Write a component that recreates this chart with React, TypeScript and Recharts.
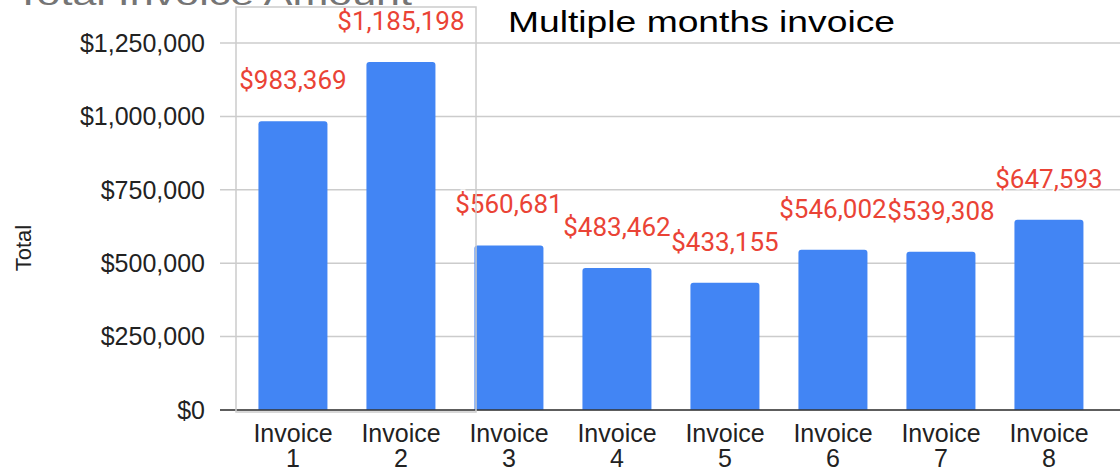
import { BarChart, Bar, XAxis, YAxis, CartesianGrid, LabelList } from "recharts";

const invoices = ["Invoice 1", "Invoice 2", "Invoice 3", "Invoice 4", "Invoice 5", "Invoice 6", "Invoice 7", "Invoice 8"];
const totals = [983369, 1185198, 560681, 483462, 433155, 546002, 539308, 647593];
const yTicks = [0, 250000, 500000, 750000, 1000000, 1250000];

const data = invoices.map((name, i) => ({ name, total: totals[i] }));

const money = (v: number) => "$" + Number(v).toLocaleString("en-US");

function InvoiceTick({ x, y, payload }: any) {
  const [word, num] = String(payload.value).split(" ");
  return (
    <text x={x} y={y} textAnchor="middle" fill="#222" fontSize={25} fontFamily="'Liberation Sans', Arial, sans-serif">
      <tspan x={x} dy={32}>{word}</tspan>
      <tspan x={x} dy={25}>{num}</tspan>
    </text>
  );
}

export default function App() {
  return (
    <div style={{ position: "absolute", left: 0, top: 0, width: 1120, height: 471, background: "#fff", overflow: "hidden" }}>
      <BarChart width={1120} height={471} data={data} margin={{ top: 43, right: 0, bottom: 0, left: 0 }} barCategoryGap="18%">
        <CartesianGrid vertical={false} stroke="#cccccc" strokeWidth={1.5} />
        <XAxis
          dataKey="name"
          height={61}
          padding={{ left: 19, right: 17 }}
          tickLine={false}
          tickSize={0}
          tickMargin={0}
          axisLine={{ stroke: "#333", strokeWidth: 1.5 }}
          tick={<InvoiceTick />}
          interval={0}
        />
        <YAxis
          width={220}
          domain={[0, 1250000]}
          ticks={yTicks}
          tickFormatter={money}
          axisLine={false}
          tickLine={false}
          tickSize={0}
          tickMargin={15}
          tick={{ fill: "#222", fontSize: 25, fontFamily: "'Liberation Sans', Arial, sans-serif" }}
        />
        <Bar dataKey="total" fill="#4285f4" radius={[3, 3, 0, 0]} isAnimationActive={false}>
          <LabelList
            dataKey="total"
            position="top"
            offset={32}
            formatter={(v: any) => money(v)}
            fill="#ea4335"
            stroke="#fff"
            strokeWidth={3}
            paintOrder="stroke"
            fontSize={26}
            fontFamily="Roboto, sans-serif"
          />
        </Bar>
      </BarChart>
      <svg width={1120} height={471} style={{ position: "absolute", left: 0, top: 0, pointerEvents: "none" }}>
        <text x={15} y={5} fill="#757575" fontSize={31} fontFamily="'Liberation Sans', Arial, sans-serif" textLength={397} lengthAdjust="spacingAndGlyphs">
          Total Invoice Amount
        </text>
        <text x={508} y={32} fill="#000" fontSize={29} fontFamily="'Liberation Sans', Arial, sans-serif" textLength={387} lengthAdjust="spacingAndGlyphs">
          Multiple months invoice
        </text>
        <text transform="translate(31,248) rotate(-90)" textAnchor="middle" fill="#222" fontSize={22} fontFamily="'Liberation Sans', Arial, sans-serif">
          Total
        </text>
        <rect x={236} y={7} width={240} height={405} fill="none" stroke="#cccccc" strokeWidth={1.5} />
      </svg>
    </div>
  );
}
